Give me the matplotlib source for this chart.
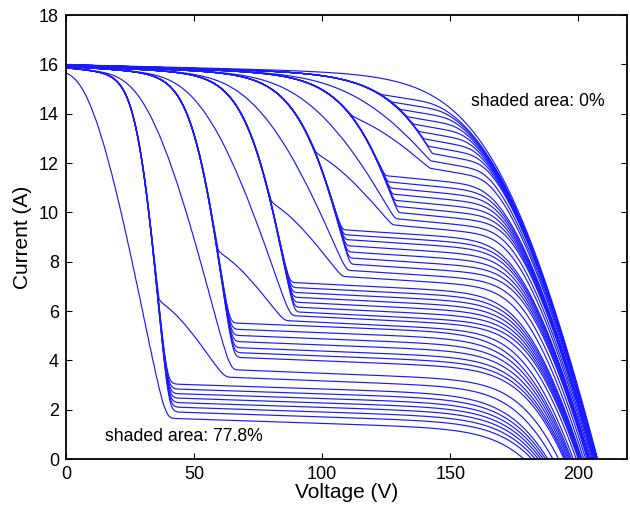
import numpy as np
import matplotlib
matplotlib.use("Agg")
import matplotlib.pyplot as plt

# ---------------- values ----------------
n_modules = 8            # modules in the string
isc_lit = 16.05          # short-circuit current of a fully lit module (A)
voc_lit = 25.94          # open-circuit voltage of one lit module (V) (207.5 V / 8)

# one entry per curve: fully lit modules, current of the shaded modules (A),
# top current of a partly shaded (graded) module, 0 = none
lit_modules = [8,
               6, 6, 7, 7, 7, 7, 7, 7, 7, 7, 7,
               5, 5, 6, 6, 6, 6, 6, 6, 6,
               4, 4, 5, 5, 5, 5, 5, 5, 5,
               3, 3, 4, 4, 4, 4, 4, 4, 4,
               2, 2, 3, 3, 3, 3, 3, 3, 3,
               1, 2, 2, 2, 2, 2, 2, 2]
shaded_current = [16.05,
                  11.8, 12.1, 12.4, 12.7, 13.0, 13.3, 13.6, 13.9, 14.2, 14.5, 14.8,
                  9.5, 9.75, 10.0, 10.25, 10.5, 10.75, 11.0, 11.25, 11.5,
                  7.4, 7.65, 7.9, 8.15, 8.4, 8.65, 8.9, 9.1, 9.3,
                  5.6, 5.8, 5.95, 6.15, 6.35, 6.55, 6.75, 6.95, 7.15,
                  3.3, 3.6, 4.1, 4.3, 4.5, 4.75, 5.0, 5.25, 5.5,
                  1.62, 1.88, 2.08, 2.27, 2.45, 2.63, 2.82, 3.02]
graded_top = [0,
              14.0, 16.0, 0, 0, 0, 0, 0, 0, 0, 0, 0,
              12.5, 16.0, 0, 0, 0, 0, 0, 0, 0,
              10.5, 16.0, 0, 0, 0, 0, 0, 0, 0,
              8.5, 16.0, 0, 0, 0, 0, 0, 0, 0,
              6.5, 16.0, 0, 0, 0, 0, 0, 0, 0,
              16.0, 0, 0, 0, 0, 0, 0, 0]

x_ticks = [0, 50, 100, 150, 200]
y_ticks = [0, 2, 4, 6, 8, 10, 12, 14, 16, 18]
label_top = "shaded area: 0%"
label_bottom = "shaded area: 77.8%"

# ---------------- module model (single diode + bypass diode) ----------------
A_MOD = 1.8      # modified ideality voltage per module
RS = 0.2         # series resistance per module
RSH = 49.5       # shunt resistance per module
IB0, AB = 1e-6, 0.125   # bypass diode
GRADE_POWER = 1.7       # shape of the shadow edge on a partly shaded module
I0 = (isc_lit - voc_lit / RSH) / np.exp(voc_lit / A_MOD)

cur = np.linspace(0.0, 16.4, 5000)
_cache = {}


def module_voltage(iph):
    key = round(iph, 5)
    if key in _cache:
        return _cache[key]
    lo = np.full_like(cur, -5.0)
    hi = np.full_like(cur, 40.0)
    for _ in range(50):
        mid = 0.5 * (lo + hi)
        vd = mid + cur * RS
        f = (iph - I0 * np.expm1(vd / A_MOD) - vd / RSH
             + IB0 * np.expm1(-mid / AB) - cur)
        pos = f > 0
        lo = np.where(pos, mid, lo)
        hi = np.where(pos, hi, mid)
    v = 0.5 * (lo + hi)
    _cache[key] = v
    return v


def string_voltage(n_lit, i_sh, top):
    v = n_lit * module_voltage(isc_lit)
    n_sh = n_modules - n_lit
    if top > 0:
        t = np.linspace(0.0, 1.0, 40) ** GRADE_POWER
        parts = top - (top - i_sh) * t
        for p in parts:
            v = v + module_voltage(p) / len(parts)
        n_sh -= 1
    if n_sh > 0:
        v = v + n_sh * module_voltage(i_sh)
    return v


# ---------------- figure ----------------
plt.rcParams['font.family'] = ['Liberation Sans', 'DejaVu Sans']
fig = plt.figure(figsize=(6.30, 5.08), dpi=100)
ax = fig.add_axes([66 / 630, 49 / 508, 561 / 630, 444 / 508])

for n_lit, i_sh, top in zip(lit_modules, shaded_current, graded_top):
    v = string_voltage(n_lit, i_sh, top)
    ax.plot(v, cur, color='#1a1aff', lw=0.85)

ax.set_xlim(0, 219)
ax.set_ylim(0, 18)
ax.set_xticks(x_ticks)
ax.set_yticks(y_ticks)
ax.tick_params(direction='in', length=4, width=0.8, labelsize=13,
               top=True, right=True)
ax.tick_params(axis='x', pad=5)
ax.tick_params(axis='y', pad=5)
for s in ax.spines.values():
    s.set_linewidth(1.3)
ax.set_xlabel('Voltage (V)', fontsize=15)
ax.set_ylabel('Current (A)', fontsize=15)
ax.xaxis.label.set_va('center')
ax.yaxis.label.set_va('center')
ax.xaxis.set_label_coords(0.5, (459 - 493) / 444)
ax.yaxis.set_label_coords((22 - 66) / 561, 0.5)
ax.text(158.0, 14.5, label_top, fontsize=12.7, va='center', ha='left')
ax.text(15.1, 0.93, label_bottom, fontsize=12.7, va='center', ha='left')

fig.savefig('out.png', dpi=100)
